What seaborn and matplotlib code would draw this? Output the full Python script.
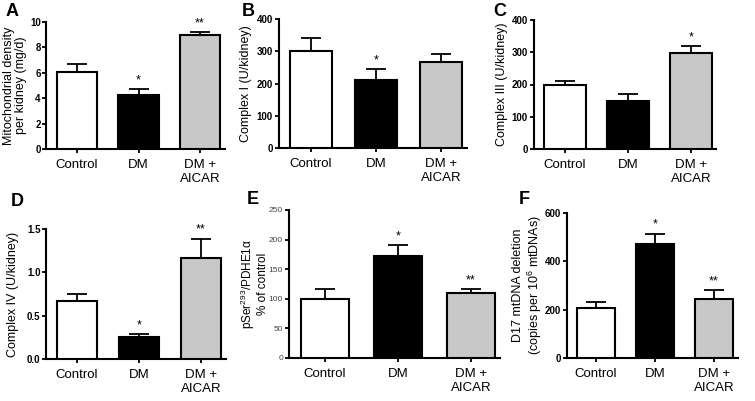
import matplotlib
matplotlib.use("Agg")
import matplotlib.pyplot as plt
import numpy as np
import pandas as pd
import seaborn as sns

sns.set_theme(style="ticks")
plt.rcParams["font.family"] = ["Liberation Sans", "DejaVu Sans"]
plt.rcParams["mathtext.fontset"] = "custom"
plt.rcParams["mathtext.rm"] = "Liberation Sans"
plt.rcParams["mathtext.it"] = "Liberation Sans:italic"
for key in ["text.color", "axes.labelcolor", "xtick.color", "ytick.color"]:
    plt.rcParams[key] = "black"

groups = ["Control", "DM", "DM +\nAICAR"]
bar_colors = ["#ffffff", "#000000", "#c8c8c8"]

# panel data: means, upper error (SEM), significance marks
mito_mean = [6.1, 4.25, 9.0]
mito_sem = [0.6, 0.45, 0.2]
mito_sig = ["", "*", "**"]

cI_mean = [300, 212, 268]
cI_sem = [42, 32, 25]
cI_sig = ["", "*", ""]

cIII_mean = [200, 150, 298]
cIII_sem = [12, 20, 22]
cIII_sig = ["", "", "*"]

cIV_mean = [0.67, 0.25, 1.16]
cIV_sem = [0.08, 0.04, 0.23]
cIV_sig = ["", "*", "**"]

pdh_mean = [100, 172, 110]
pdh_sem = [17, 19, 6]
pdh_sig = ["", "*", "**"]

d17_mean = [205, 472, 243]
d17_sem = [28, 43, 39]
d17_sig = ["", "*", "**"]

panels = [
    dict(letter="A", mean=mito_mean, sem=mito_sem, sig=mito_sig, ylim=10,
         yticks=[0, 2, 4, 6, 8, 10], yfmt="{:g}",
         ylabel="Mitochondrial density\nper kidney (mg/d)", label_x=15,
         label_fs=9, label_ls=1.1,
         c0=77, sp=61.5, top=22, bot=149, letter_xy=(12, 12)),
    dict(letter="B", mean=cI_mean, sem=cI_sem, sig=cI_sig, ylim=400,
         yticks=[0, 100, 200, 300, 400], yfmt="{:g}",
         ylabel="Complex I (U/kidney)", label_x=246, label_fs=9, label_ls=1.1,
         c0=311, sp=65, top=19, bot=148, letter_xy=(248, 12)),
    dict(letter="C", mean=cIII_mean, sem=cIII_sem, sig=cIII_sig, ylim=400,
         yticks=[0, 100, 200, 300, 400], yfmt="{:g}",
         ylabel="Complex III (U/kidney)", label_x=502, label_fs=9, label_ls=1.1,
         c0=565, sp=63, top=20, bot=149, letter_xy=(500, 12)),
    dict(letter="D", mean=cIV_mean, sem=cIV_sem, sig=cIV_sig, ylim=1.5,
         yticks=[0, 0.5, 1.0, 1.5], yfmt="{:.1f}",
         ylabel="Complex IV (U/kidney)", label_x=13, label_fs=9, label_ls=1.1,
         c0=77, sp=62, top=229, bot=359, letter_xy=(17, 201)),
    dict(letter="E", mean=pdh_mean, sem=pdh_sem, sig=pdh_sig, ylim=250,
         yticks=[0, 50, 100, 150, 200, 250], yfmt="{:g}",
         ylabel="pSer$^{\\mathit{293}}$/PDHE1\u03b1\n% of control", label_x=254,
         label_fs=8.5, label_ls=0.95,
         c0=325, sp=73, top=210, bot=358, letter_xy=(253, 200)),
    dict(letter="F", mean=d17_mean, sem=d17_sem, sig=d17_sig, ylim=600,
         yticks=[0, 200, 400, 600], yfmt="{:g}",
         ylabel="D17 mtDNA deletion\n(copies per 10$^{\\mathit{6}}$ mtDNAs)", label_x=528,
         label_fs=9, label_ls=1.1,
         c0=596, sp=59, top=213, bot=358, letter_xy=(524, 200)),
]

W, H = 755, 401
fig = plt.figure(figsize=(W / 100, H / 100), dpi=100)

for p in panels:
    left = p["c0"] - 0.5 * p["sp"]
    right = left + 2.9 * p["sp"]
    ax = fig.add_axes([left / W, 1 - p["bot"] / H, (right - left) / W,
                       (p["bot"] - p["top"]) / H])
    df = pd.DataFrame({"group": groups, "value": p["mean"]})
    sns.barplot(data=df, x="group", y="value", hue="group", palette=bar_colors,
                edgecolor="black", linewidth=1.5, width=0.66, errorbar=None,
                legend=False, ax=ax, zorder=3)
    x = np.arange(len(groups))
    ax.errorbar(x, p["mean"], yerr=[np.zeros(3), p["sem"]], fmt="none",
                ecolor="black", elinewidth=1.3, capsize=7, capthick=1.3,
                zorder=2)
    for xi, m, s, mark in zip(x, p["mean"], p["sem"], p["sig"]):
        if mark:
            ax.text(xi, m + s + p["ylim"] * 0.02, mark, ha="center",
                    va="bottom", fontsize=9)
    ax.set_xlim(-0.5, 2.4)
    ax.set_ylim(0, p["ylim"])
    ax.set_yticks(p["yticks"])
    if p["letter"] == "E":
        ax.set_yticklabels([p["yfmt"].format(t) for t in p["yticks"]],
                           fontsize=6, color="#444444")
    else:
        ax.set_yticklabels([p["yfmt"].format(t) for t in p["yticks"]],
                           fontsize=7, fontweight="bold")
    ax.set_xticks(x)
    ax.set_xticklabels(groups, fontsize=9.5, linespacing=1.3)
    ax.set_xlabel("")
    ax.set_ylabel(p["ylabel"], fontsize=p["label_fs"], linespacing=p["label_ls"])
    ax.yaxis.set_label_coords((p["label_x"] - left) / (right - left), 0.5)
    ax.yaxis.label.set_verticalalignment("center")
    sns.despine(ax=ax)
    for side in ["left", "bottom"]:
        ax.spines[side].set_linewidth(1.5)
        ax.spines[side].set_color("black")
    ax.tick_params(axis="both", length=3, width=1.3, color="black", pad=1)
    ax.tick_params(axis="x", pad=4)
    lx, ly = p["letter_xy"]
    fig.text(lx / W, 1 - ly / H, p["letter"], fontsize=13, fontweight="bold",
             ha="center", va="center")

fig.savefig("out.png", dpi=100)
